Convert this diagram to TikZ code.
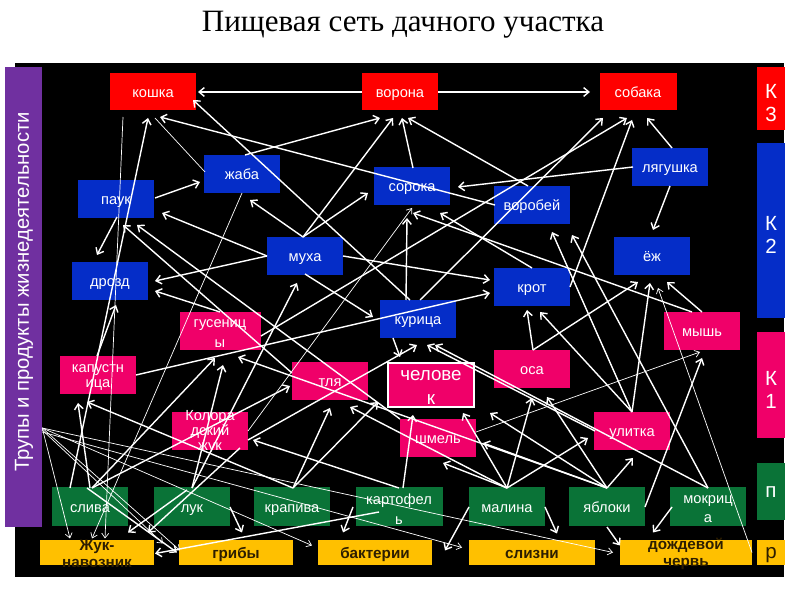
\documentclass[tikz,border=0pt]{standalone}
\usepackage{fontspec}
\setmainfont{Liberation Sans}
\newfontfamily\titlefont{Liberation Serif}
\usetikzlibrary{arrows.meta,calc}
\definecolor{cred}{RGB}{255,0,0}
\definecolor{cblue}{RGB}{5,45,200}
\definecolor{cpink}{RGB}{240,0,105}
\definecolor{cgreen}{RGB}{10,115,55}
\definecolor{cyel}{RGB}{255,192,0}
\definecolor{cpurp}{RGB}{112,48,160}
\definecolor{cdark}{RGB}{45,30,0}
\def\pxu{0.03cm}
\newcommand\edgeline[5]{\draw[#1] ($(#2)+(#3)$) -- ($(#4)+(#5)$);}
\tikzset{
  box/.style={rectangle,inner sep=0pt,minimum width=76*\pxu,minimum height=38*\pxu,
    text=white,font=\fontsize{12.5}{12.8}\selectfont,text height=9.6pt,text depth=0pt},
  rb/.style={box,fill=cred},
  bb/.style={box,fill=cblue},
  pb/.style={box,fill=cpink},
  gb/.style={box,fill=cgreen,minimum height=39*\pxu},
  yb/.style={box,fill=cyel,minimum width=114*\pxu,minimum height=25*\pxu,text=cdark,
    font=\bfseries\fontsize{13}{14.5}\selectfont},
  inlbl/.style={text=white,font=\fontsize{12.5}{12.8}\selectfont,align=center,inner sep=0pt,yshift=-2pt},
  ylbl/.style={text=cdark,font=\bfseries\fontsize{13}{14.5}\selectfont,align=center,inner sep=0pt,yshift=-1pt},
  side/.style={rectangle,inner sep=0pt,minimum width=28*\pxu,
    font=\fontsize{17.5}{19.5}\selectfont,text=white},
  sidelbl/.style={text=white,font=\fontsize{17.5}{19.5}\selectfont,align=center,inner sep=0pt,yshift=-4pt},
  ar/.style={draw=white,line width=1.2pt,-{Straight Barb[length=4.5pt,width=7.5pt]}},
  thinar/.style={draw=white,line width=0.6pt,-{Straight Barb[length=4pt,width=6pt]}},
  thinline/.style={draw=white,line width=0.6pt}
}
\begin{document}
\begin{tikzpicture}[x=0.03cm,y=-0.03cm]
\useasboundingbox (0,0) rectangle (800,600);
\fill[white] (0,0) rectangle (800,600);
\node (title) at (403,25) {\titlefont\fontsize{26.5}{30}\selectfont Пищевая сеть дачного участка};
\fill[black] (15,63) rectangle (784,577);

% side bars
\node[rectangle,fill=cpurp,inner sep=0pt,minimum width=37*\pxu,minimum height=460*\pxu] (trup) at (23.5,297) {};
\node[rotate=90,text=white,font=\fontsize{17.3}{18}\selectfont,inner sep=0pt] (trupT) at (24,292) {Трупы и продукты жизнедеятельности};
\node[side,fill=cred,minimum height=63*\pxu,label={[sidelbl]center:{К\\3}}] (k3) at (771,98.5) {};
\node[side,fill=cblue,minimum height=175*\pxu,label={[sidelbl]center:{К\\2}}] (k2) at (771,230.5) {};
\node[side,fill=cpink,minimum height=106*\pxu,label={[sidelbl]center:{К\\1}}] (k1) at (771,385) {};
\node[side,fill=cgreen,minimum height=57*\pxu,text height=10pt,text depth=0pt] (kp) at (771,491.5) {п};
\node[side,fill=cyel,minimum height=25*\pxu,text=cdark,text height=10pt,text depth=0pt] (kr) at (771,552.5) {р};

% consumers 3
\node[rb,minimum width=86*\pxu,minimum height=37*\pxu] (kot) at (153,92) {кошка};
\node[rb,minimum height=37*\pxu] (vor) at (400,92) {ворона};
\node[rb,minimum width=77*\pxu,minimum height=37*\pxu] (sob) at (638,92) {собака};
% consumers 2
\node[bb] (lyag) at (670,167) {лягушка};
\node[bb] (zhaba) at (242,174) {жаба};
\node[bb] (pauk) at (116,199) {паук};
\node[bb] (sor) at (412,186) {сорока};
\node[bb] (vorob) at (532,205) {воробей};
\node[bb] (muha) at (305,256) {муха};
\node[bb] (ezh) at (652,256) {ёж};
\node[bb] (drozd) at (110,281) {дрозд};
\node[bb] (krot) at (532,287) {крот};
\node[bb] (kur) at (418,319) {курица};
% consumers 1
\node[pb,minimum width=81*\pxu,label={[inlbl,font=\fontsize{12.5}{17}\selectfont]center:{гусениц\\ы}}] (gus) at (220,331) {};
\node[pb] (mysh) at (702,331) {мышь};
\node[pb,label={[inlbl]center:{капустн\\ица}}] (kap) at (98,375) {};
\node[pb] (osa) at (532,369) {оса};
\node[pb] (tlya) at (330,381) {тля};
\node[pb,draw=white,line width=1.6pt,minimum width=86*\pxu,minimum height=44*\pxu,
  label={[inlbl,font=\fontsize{16}{21}\selectfont]center:{челове\\к}}] (chel) at (431,385) {};
\node[pb,label={[inlbl,yshift=1.5pt]center:{Колора\\дский\\жук}}] (kol) at (210,431) {};
\node[pb] (shm) at (438,438) {шмель};
\node[pb] (ulit) at (632,431) {улитка};
% producers
\node[gb] (sliv) at (90,507) {слива};
\node[gb] (luk) at (192,507) {лук};
\node[gb] (krap) at (292,507) {крапива};
\node[gb,minimum width=87*\pxu,label={[inlbl,font=\fontsize{12.5}{17}\selectfont]center:{картофел\\ь}}] (kart) at (399,507) {};
\node[gb] (mal) at (507,507) {малина};
\node[gb] (yab) at (607,507) {яблоки};
\node[gb,label={[inlbl,font=\fontsize{12.5}{16}\selectfont]center:{мокриц\\а}}] (mokr) at (708,507) {};
% reducers
\node[yb,label={[ylbl]center:{Жук-\\навозник}}] (nav) at (97,552.5) {};
\node[yb] (grib) at (236,552.5) {грибы};
\node[yb] (bakt) at (375,552.5) {бактерии};
\node[yb,minimum width=126*\pxu] (sliz) at (532,552.5) {слизни};
\node[yb,minimum width=132*\pxu,label={[ylbl]center:{дождевой\\червь}}] (cherv) at (686,552.5) {};

% connectors
\edgeline{ar}{vor}{-38,0}{kot}{45,0}
\edgeline{ar}{vor}{38,0}{sob}{-48,0}
\edgeline{ar}{kur}{-8,-19}{kot}{40,8}
\edgeline{ar}{vorob}{-37,0}{kot}{7,25}
\edgeline{ar}{sliv}{-20,-19}{kot}{-5,26}
\edgeline{thinline}{zhaba}{-37,-2}{kot}{2,26}
\edgeline{thinar}{kot}{-30,25}{nav}{8,-14}
\edgeline{ar}{zhaba}{3,-19}{vor}{-20,26}
\edgeline{ar}{muha}{-2,-19}{vor}{-7,26}
\edgeline{ar}{muha}{-2,-19}{sor}{-44,7}
\edgeline{ar}{sor}{1,-18}{vor}{2,26}
\edgeline{ar}{vorob}{-4,-19}{vor}{8,26}
\edgeline{ar}{pauk}{39,-1}{zhaba}{-42,8}
\edgeline{ar}{muha}{-2,-19}{zhaba}{8,26}
\edgeline{ar}{muha}{-38,0}{pauk}{46,14}
\edgeline{ar}{muha}{-38,0}{drozd}{45,0}
\edgeline{ar}{gus}{0,-19}{drozd}{45,10}
\edgeline{ar}{pauk}{1,18}{drozd}{-13,-26}
\edgeline{ar}{kap}{-1,-19}{drozd}{6,24}
\edgeline{ar}{kap}{38,0}{krot}{-42,6}
\edgeline{ar}{tlya}{-38,-8}{pauk}{7,26}
\edgeline{ar}{shm}{-38,-19}{pauk}{21,26}
\edgeline{ar}{muha}{38,0}{krot}{-42,-7}
\edgeline{ar}{muha}{0,18}{kur}{-45,-2}
\edgeline{ar}{luk}{0,-19}{muha}{-8,27}
\edgeline{ar}{mysh}{-10,-19}{sor}{1,27}
\edgeline{ar}{krot}{0,-19}{sor}{28,27}
\edgeline{thinar}{kol}{38,0}{sor}{0,22}
\edgeline{ar}{kur}{-12,-19}{sor}{-5,32}
\edgeline{ar}{lyag}{-37,0}{sor}{46,1}
\edgeline{ar}{lyag}{2,-19}{sob}{9,26}
\edgeline{ar}{lyag}{0,19}{ezh}{1,-26}
\edgeline{ar}{kur}{2,-19}{sob}{-35,26}
\edgeline{ar}{gus}{41,5}{sob}{-11,26}
\edgeline{ar}{krot}{38,0}{sob}{-6,28}
\edgeline{ar}{osa}{1,-19}{krot}{-5,23}
\edgeline{ar}{ulit}{0,-19}{krot}{8,25}
\edgeline{ar}{osa}{1,-19}{ezh}{-14,26}
\edgeline{ar}{ulit}{0,-19}{ezh}{-2,27}
\edgeline{ar}{mysh}{0,-19}{ezh}{15,26}
\edgeline{thinar}{cherv}{66,0}{ezh}{6,32}
\edgeline{ar}{ulit}{0,-19}{vorob}{20,27}
\edgeline{ar}{mokr}{0,-19}{vorob}{40,30}
\edgeline{ar}{mokr}{0,-19}{kur}{17,26}
\edgeline{ar}{ulit}{-37,0}{kur}{9,26}
\edgeline{ar}{kol}{38,9}{kur}{-1,26}
\edgeline{ar}{kur}{-25,19}{chel}{-31,-28}
\edgeline{ar}{kart}{4,-19}{chel}{-18,30}
\edgeline{ar}{krap}{1,-19}{chel}{-53,17}
\edgeline{ar}{mal}{0,-19}{chel}{32,28}
\edgeline{ar}{yab}{0,-19}{chel}{59,28}
\edgeline{ar}{mal}{0,-19}{osa}{0,29}
\edgeline{ar}{yab}{0,-19}{osa}{15,28}
\edgeline{ar}{mal}{0,-19}{ulit}{-44,7}
\edgeline{ar}{yab}{0,-19}{ulit}{1,27}
\edgeline{ar}{mal}{0,-19}{shm}{5,25}
\edgeline{ar}{yab}{0,-19}{shm}{45,5}
\edgeline{ar}{mal}{0,-19}{tlya}{20,26}
\edgeline{ar}{yab}{0,-19}{gus}{18,26}
\edgeline{ar}{krap}{1,-19}{tlya}{0,27}
\edgeline{ar}{sliv}{2,-19}{gus}{-5,27}
\edgeline{ar}{luk}{0,-19}{gus}{3,34}
\edgeline{ar}{sliv}{2,-19}{tlya}{-40,5}
\edgeline{ar}{sliv}{0,-19}{kap}{-20,28}
\edgeline{ar}{krap}{1,-19}{kap}{-11,27}
\edgeline{ar}{kart}{0,-19}{kol}{43,9}
\edgeline{ar}{yab}{38,0}{mysh}{0,27}
\edgeline{thinar}{shm}{38,-6}{mysh}{-2,21}
\edgeline{ar}{mokr}{-36,0}{cherv}{-33,-20}
\edgeline{ar}{mal}{38,0}{sliz}{25,-19}
\edgeline{ar}{mal}{-38,0}{bakt}{70,-2}
\edgeline{ar}{yab}{0,20}{cherv}{-66,-7}
\edgeline{ar}{kart}{-46,0}{bakt}{-32,-20}
\edgeline{ar}{luk}{38,0}{grib}{6,-20}
\edgeline{ar}{luk}{-5,-17}{nav}{31,-20}
\edgeline{ar}{kol}{30,17}{nav}{51,-20}
\edgeline{thinar}{zhaba}{0,19}{nav}{-5,-14}
\edgeline{ar}{kart}{-20,5}{nav}{58,1}
\edgeline{ar}{sliv}{-3,-19}{grib}{-59,0}
% fan from the purple bar
\edgeline{thinar}{trup.east}{0,131}{nav}{-27,-14}
\edgeline{thinar}{trup.east}{0,133}{grib}{-73,-9}
\edgeline{thinar}{trup.east}{0,131}{grib}{-56,-2}
\edgeline{thinar}{trup.east}{0,131}{bakt}{-63,-7}
\edgeline{thinar}{trup.east}{0,135}{sliz}{-70,-5}
\edgeline{thinar}{trup.east}{0,131}{cherv}{-73,0}
\end{tikzpicture}
\end{document}
